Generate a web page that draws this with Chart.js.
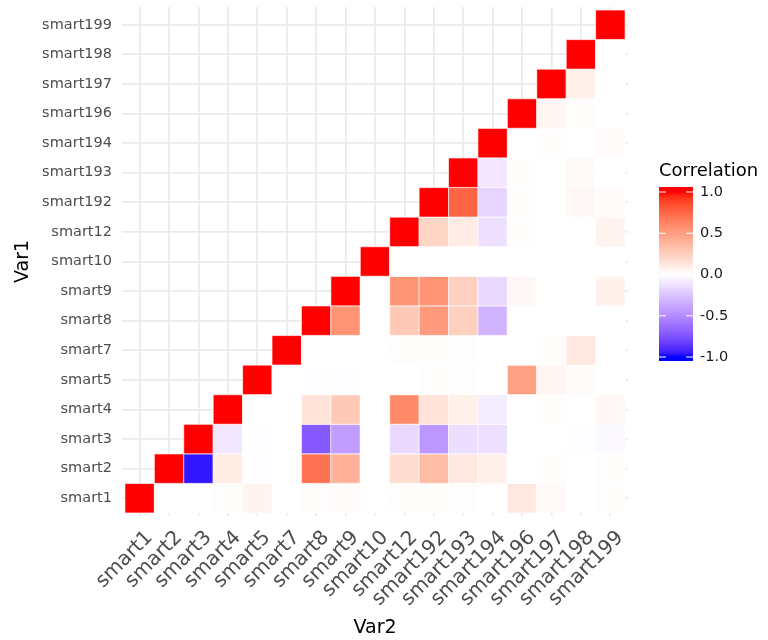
<!DOCTYPE html>
<html>
<head>
<meta charset="utf-8">
<script src="https://cdn.jsdelivr.net/npm/chart.js@4.4.0/dist/chart.umd.min.js"></script>
<style>
  html, body { margin: 0; padding: 0; background: #fff; }
  #wrap { width: 768px; height: 640px; }
</style>
</head>
<body>
<div id="wrap"><canvas id="plotCanvas"></canvas></div>
<script>
var varNames = ['smart1', 'smart2', 'smart3', 'smart4', 'smart5', 'smart7', 'smart8', 'smart9',
    'smart10', 'smart12', 'smart192', 'smart193', 'smart194', 'smart196', 'smart197', 'smart198', 'smart199'];

// one row per Var1, values start at the diagonal (upper triangle only)
var corrSmart1   = [1, 0, 0, 0.01, 0.06, 0, 0.01, 0.02, 0, 0.01, 0.01, 0.01, 0, 0.12, 0.03, 0, 0.01];
var corrSmart2   = [1, -0.96, 0.1, -0.01, 0, 0.7, 0.4, 0, 0.18, 0.35, 0.12, 0.08, 0, 0.01, 0, 0.01];
var corrSmart3   = [1, -0.1, -0.01, 0, -0.72, -0.42, 0, -0.16, -0.45, -0.14, -0.13, 0, 0, -0.01, -0.03];
var corrSmart4   = [1, 0, 0, 0.15, 0.28, 0, 0.6, 0.15, 0.08, -0.08, 0, 0.01, 0, 0.04];
var corrSmart5   = [1, 0, -0.01, -0.01, 0, 0, 0.01, 0.01, 0, 0.48, 0.05, 0.02, 0];
var corrSmart7   = [1, 0, 0, 0, 0.01, 0.01, 0.01, 0, 0, 0.01, 0.12, 0];
var corrSmart8   = [1, 0.55, 0, 0.28, 0.52, 0.25, -0.32, 0, 0, 0, 0];
var corrSmart9   = [1, 0, 0.55, 0.55, 0.25, -0.16, 0.04, 0, 0, 0.07];
var corrSmart10  = [1, 0, 0, 0, 0, 0, 0, 0, 0];
var corrSmart12  = [1, 0.22, 0.1, -0.13, 0.01, 0, 0, 0.06];
var corrSmart192 = [1, 0.76, -0.18, 0.01, 0, 0.04, 0.02];
var corrSmart193 = [1, -0.1, 0.01, 0, 0.03, 0];
var corrSmart194 = [1, 0, 0.01, 0, 0.02];
var corrSmart196 = [1, 0.05, 0.01, 0];
var corrSmart197 = [1, 0.08, 0];
var corrSmart198 = [1, 0];
var corrSmart199 = [1];

var corrRows = [corrSmart1, corrSmart2, corrSmart3, corrSmart4, corrSmart5, corrSmart7, corrSmart8,
    corrSmart9, corrSmart10, corrSmart12, corrSmart192, corrSmart193, corrSmart194, corrSmart196,
    corrSmart197, corrSmart198, corrSmart199];

var legendTicks = [1.0, 0.5, 0.0, -0.5, -1.0];

// build the tiles: x = Var2 index, y = Var1 index
var cells = [];
corrRows.forEach(function(row, i) {
    row.forEach(function(v, k) {
        cells.push({ x: i + k, y: i, v: v });
    });
});

// white -> red / white -> blue, interpolated in Lab like ggplot's gradient2
function toLinear(c) {
    c = c / 255;
    return c <= 0.04045 ? c / 12.92 : Math.pow((c + 0.055) / 1.055, 2.4);
}
function fromLinear(c) {
    c = c <= 0.0031308 ? 12.92 * c : 1.055 * Math.pow(c, 1 / 2.4) - 0.055;
    return Math.max(0, Math.min(255, Math.round(c * 255)));
}
function labF(t) { return t > 0.008856 ? Math.cbrt(t) : 7.787 * t + 16 / 116; }
function labFinv(t) { var t3 = t * t * t; return t3 > 0.008856 ? t3 : (t - 16 / 116) / 7.787; }

function toLab(rgb) {
    var r = toLinear(rgb[0]), g = toLinear(rgb[1]), b = toLinear(rgb[2]);
    var X = (0.4124 * r + 0.3576 * g + 0.1805 * b) / 0.95047;
    var Y = (0.2126 * r + 0.7152 * g + 0.0722 * b);
    var Z = (0.0193 * r + 0.1192 * g + 0.9505 * b) / 1.08883;
    var fx = labF(X), fy = labF(Y), fz = labF(Z);
    return [116 * fy - 16, 500 * (fx - fy), 200 * (fy - fz)];
}
function fromLab(lab) {
    var fy = (lab[0] + 16) / 116, fx = fy + lab[1] / 500, fz = fy - lab[2] / 200;
    var X = labFinv(fx) * 0.95047, Y = labFinv(fy), Z = labFinv(fz) * 1.08883;
    var r = 3.2406 * X - 1.5372 * Y - 0.4986 * Z;
    var g = -0.9689 * X + 1.8758 * Y + 0.0415 * Z;
    var b = 0.0557 * X - 0.2040 * Y + 1.0570 * Z;
    return [fromLinear(r), fromLinear(g), fromLinear(b)];
}

var labWhite = toLab([255, 255, 255]);
var labRed = toLab([255, 0, 0]);
var labBlue = toLab([0, 0, 255]);

function corrColour(v) {
    var end = v >= 0 ? labRed : labBlue;
    var t = Math.min(1, Math.abs(v));
    var lab = [0, 1, 2].map(function(k) { return labWhite[k] + (end[k] - labWhite[k]) * t; });
    var rgb = fromLab(lab);
    return 'rgb(' + rgb[0] + ',' + rgb[1] + ',' + rgb[2] + ')';
}

function tileRadius(chart) {
    var sx = chart.scales.x, sy = chart.scales.y;
    var w = Math.abs(sx.getPixelForValue(1) - sx.getPixelForValue(0));
    var h = Math.abs(sy.getPixelForValue(1) - sy.getPixelForValue(0));
    return Math.min(w, h) / 2 / Math.SQRT1_2;
}

var fontFamily = "'DejaVu Sans', sans-serif";

var colourBarPlugin = {
    id: 'colourBar',
    afterDraw: function(chart) {
        var ctx = chart.ctx;
        var left = 659, right = 693, top = 187, bottom = 361;
        var yHigh = 192, yLow = 357;  // where +1 and -1 sit on the bar
        var grad = ctx.createLinearGradient(0, yHigh, 0, yLow);
        for (var s = 0; s <= 40; s++) {
            grad.addColorStop(s / 40, corrColour(1 - s / 20));
        }
        ctx.save();
        ctx.fillStyle = grad;
        ctx.fillRect(left, top, right - left, bottom - top);

        ctx.strokeStyle = '#ffffff';
        ctx.lineWidth = 1;
        ctx.font = '14.5px ' + fontFamily;
        ctx.fillStyle = '#1a1a1a';
        ctx.textAlign = 'left';
        ctx.textBaseline = 'middle';
        legendTicks.forEach(function(v) {
            var y = yHigh + (1 - v) / 2 * (yLow - yHigh);
            ctx.beginPath();
            ctx.moveTo(left, y); ctx.lineTo(left + 7, y);
            ctx.moveTo(right - 7, y); ctx.lineTo(right, y);
            ctx.stroke();
            ctx.fillText(v.toFixed(1), 700, y);
        });

        ctx.font = '18px ' + fontFamily;
        ctx.fillStyle = '#000000';
        ctx.fillText('Correlation', 659, 171);
        ctx.restore();
    }
};

var canvas = document.getElementById('plotCanvas');
var ctx = canvas.getContext('2d');

var chart = new Chart(ctx, {
    type: 'scatter',
    data: {
        datasets: [{
            data: cells,
            pointStyle: 'rect',
            pointRadius: function(c) { return tileRadius(c.chart); },
            hoverRadius: function(c) { return tileRadius(c.chart); },
            backgroundColor: function(c) { return c.raw ? corrColour(c.raw.v) : '#fff'; },
            hoverBackgroundColor: function(c) { return c.raw ? corrColour(c.raw.v) : '#fff'; },
            borderColor: '#ffffff',
            borderWidth: 0.6,
            hoverBorderWidth: 0.6
        }]
    },
    options: {
        responsive: true,
        maintainAspectRatio: false,
        animation: false,
        events: [],
        layout: { padding: { top: 7, right: 140, bottom: 0, left: 0 } },
        plugins: {
            legend: { display: false },
            tooltip: { enabled: false }
        },
        scales: {
            x: {
                type: 'linear',
                min: -0.6,
                max: 16.6,
                afterBuildTicks: function(s) {
                    s.ticks = varNames.map(function(n, i) { return { value: i }; });
                },
                afterFit: function(s) { s.height = 124; },
                ticks: {
                    autoSkip: false,
                    minRotation: 45,
                    maxRotation: 45,
                    padding: 10,
                    labelOffset: 10,
                    color: '#4d4d4d',
                    font: { family: fontFamily, size: 20 },
                    callback: function(value) { return varNames[value]; }
                },
                grid: { color: '#ebebeb', lineWidth: 1.8, drawTicks: false },
                border: { display: false },
                title: {
                    display: true,
                    text: 'Var2',
                    color: '#000000',
                    font: { family: fontFamily, size: 19 },
                    padding: { top: 0, bottom: 1 }
                }
            },
            y: {
                type: 'linear',
                min: -0.6,
                max: 16.6,
                afterBuildTicks: function(s) {
                    s.ticks = varNames.map(function(n, i) { return { value: i }; });
                },
                afterFit: function(s) {
                    s.width = 122;
                    s.paddingTop = 0;
                    s.paddingBottom = 0;
                },
                ticks: {
                    autoSkip: false,
                    padding: 10,
                    color: '#4d4d4d',
                    font: { family: fontFamily, size: 14.5 },
                    callback: function(value) { return varNames[value]; }
                },
                grid: { color: '#ebebeb', lineWidth: 1.8, drawTicks: false },
                border: { display: false },
                title: {
                    display: true,
                    text: 'Var1',
                    color: '#000000',
                    font: { family: fontFamily, size: 19 },
                    padding: { top: 12, bottom: 0 }
                }
            }
        }
    },
    plugins: [colourBarPlugin]
});
</script>
</body>
</html>
